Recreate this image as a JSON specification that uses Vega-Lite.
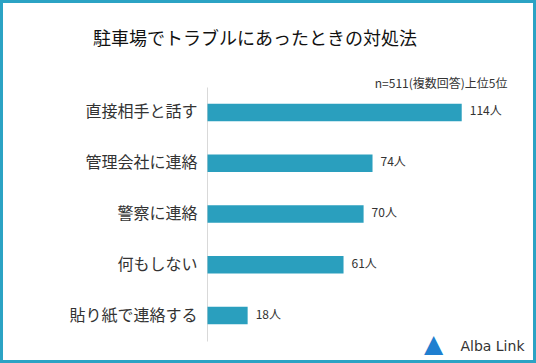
{
  "$schema": "https://vega.github.io/schema/vega-lite/v6.json",
  "width": 536,
  "height": 363,
  "autosize": {"type": "none"},
  "padding": 0,
  "background": "white",
  "config": {
    "view": {"stroke": "#2ba3c4", "strokeWidth": 6},
    "font": "Noto Sans CJK JP"
  },
  "title": {
    "text": "駐車場でトラブルにあったときの対処法",
    "fontSize": 18,
    "fontWeight": "normal",
    "color": "#111111",
    "font": "Noto Sans CJK JP",
    "anchor": "middle",
    "frame": "group",
    "dx": -13,
    "offset": -49
  },
  "data": {
    "values": [
      {"item": "直接相手と話す", "count": 114},
      {"item": "管理会社に連絡", "count": 74},
      {"item": "警察に連絡", "count": 70},
      {"item": "何もしない", "count": 61},
      {"item": "貼り紙で連絡する", "count": 18}
    ]
  },
  "transform": [{"calculate": "datum.count + '人'", "as": "label"}],
  "encoding": {
    "y": {
      "field": "item",
      "type": "nominal",
      "sort": null,
      "scale": {"range": [87, 341], "paddingInner": 0.655, "paddingOuter": 0.3275},
      "axis": {
        "orient": "left",
        "offset": -207,
        "domain": true,
        "domainColor": "#d9d9d9",
        "domainWidth": 1,
        "ticks": false,
        "grid": false,
        "labelPadding": 10,
        "labelFontSize": 16,
        "labelColor": "#333333",
        "labelFont": "Noto Sans CJK JP",
        "title": "▲",
        "titleAngle": 0,
        "titleX": 226,
        "titleY": 343,
        "titleAlign": "center",
        "titleBaseline": "middle",
        "titleFont": "DejaVu Sans",
        "titleFontSize": 25,
        "titleFontWeight": "normal",
        "titleColor": "#1f7fd0"
      }
    }
  },
  "layer": [
    {
      "mark": {"type": "bar", "color": "#2a9fbe"},
      "encoding": {
        "x": {
          "field": "count",
          "type": "quantitative",
          "scale": {"domain": [0, 120], "range": [207.5, 475.1]},
          "axis": {
            "orient": "top",
            "domain": false,
            "ticks": false,
            "labels": false,
            "grid": false,
            "title": "n=511(複数回答)上位5位",
            "titleX": 507,
            "titleY": 87,
            "titleAlign": "right",
            "titleBaseline": "alphabetic",
            "titleFontSize": 12,
            "titleFontWeight": "normal",
            "titleColor": "#333333",
            "titleFont": "Noto Sans CJK JP"
          }
        }
      }
    },
    {
      "mark": {"type": "text", "align": "left", "baseline": "middle", "dx": 8, "dy": -1, "fontSize": 12, "color": "#333333", "font": "Noto Sans CJK JP"},
      "encoding": {
        "text": {"field": "label", "type": "nominal"},
        "x": {
          "field": "count",
          "type": "quantitative",
          "scale": {"domain": [0, 120], "range": [207.5, 475.1]},
          "axis": {
            "orient": "bottom",
            "domain": false,
            "ticks": false,
            "labels": false,
            "grid": false,
            "title": "Alba Link",
            "titleX": 524,
            "titleY": -13,
            "titleAlign": "right",
            "titleBaseline": "alphabetic",
            "titleFontSize": 14,
            "titleFontWeight": "normal",
            "titleColor": "#333333",
            "titleFont": "DejaVu Sans"
          }
        }
      }
    }
  ],
  "resolve": {"axis": {"x": "independent"}}
}
